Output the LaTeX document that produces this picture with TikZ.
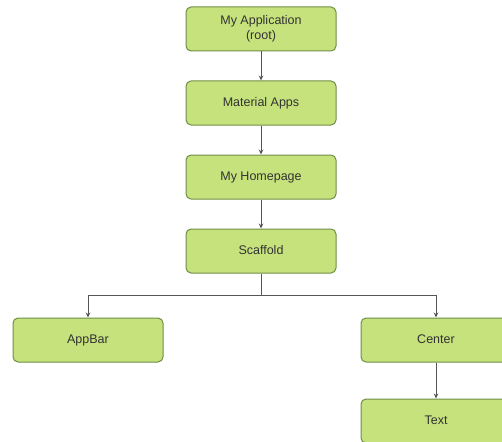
\documentclass[tikz,border=0pt]{standalone}
\usepackage{fontspec}
\setmainfont{Liberation Sans}
\usetikzlibrary{arrows.meta}
\definecolor{boxfill}{HTML}{C6E27C}
\definecolor{boxline}{HTML}{6E8F45}
\definecolor{wire}{HTML}{555555}
\begin{document}
\begin{tikzpicture}[x=1pt,y=-1pt,
  box/.style={draw=boxline,fill=boxfill,rounded corners=5pt,line width=1pt,minimum width=150pt,minimum height=44pt,align=center,font=\fontsize{12.5}{15}\selectfont,text=black!80},
  onebox/.style={box,text height=9pt,text depth=2.5pt},
  link/.style={draw=wire,line width=0.9pt,-{Stealth[length=5pt,width=4.5pt]}}]
\useasboundingbox (0,0) rectangle (502,441);
\node[box] (app) at (261,29) {My Application\\(root)};
\node[onebox] (mat) at (261,103) {Material Apps};
\node[onebox] (home) at (261,177) {My Homepage};
\node[onebox] (scaf) at (261,251) {Scaffold};
\node[onebox] (bar) at (88,340) {AppBar};
\node[onebox] (ctr) at (436,340) {Center};
\node[onebox] (txt) at (436,421) {Text};
\coordinate (split) at (261,295);
\draw[link] (app) -- (mat);
\draw[link] (mat) -- (home);
\draw[link] (home) -- (scaf);
\draw[link] (scaf) -- (split) -| (bar);
\draw[link] (split) -| (ctr);
\draw[link] (ctr) -- (txt);
\end{tikzpicture}
\end{document}
